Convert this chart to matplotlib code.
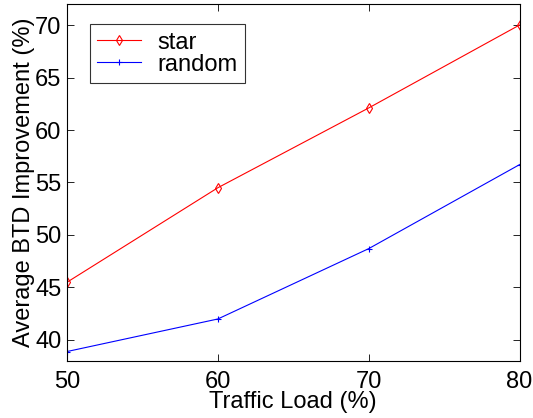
import matplotlib
matplotlib.use("Agg")
import matplotlib.pyplot as plt

plt.rcParams['font.family'] = ['Liberation Sans', 'DejaVu Sans']

load = [50, 60, 70, 80]
star = [45.5, 54.5, 62.1, 70.0]
random_topo = [38.9, 42.0, 48.7, 56.7]
yticks = [40, 45, 50, 55, 60, 65, 70]

fig = plt.figure(figsize=(5.33, 4.18), dpi=100)
ax = fig.add_axes([0.1257, 0.1364, 0.849, 0.854])

ax.plot(load, star, color='red', lw=0.8, marker='d', ms=5, mfc='none', mec='red', mew=0.8, label='star')
ax.plot(load, random_topo, color='blue', lw=0.8, marker='+', ms=5, mew=0.8, label='random')

ax.set_xlim(50, 80)
ax.set_ylim(38, 72)
ax.set_xticks(load)
ax.set_yticks(yticks)
ax.tick_params(direction='in', top=True, right=True, labelsize=17, length=5, width=0.6)
ax.tick_params(axis='x', pad=7)
ax.tick_params(axis='y', pad=4)
for s in ax.spines.values():
    s.set_linewidth(0.8)

ax.set_xlabel('Traffic Load (%)', fontsize=17, labelpad=-1)
ax.set_ylabel('Average BTD Improvement (%)', fontsize=17, labelpad=0)

leg = ax.legend(loc='upper left', bbox_to_anchor=(0.05, 0.944), borderaxespad=0,
                fontsize=17, numpoints=1, fancybox=False, handlelength=1.85,
                labelspacing=0.0, borderpad=0.32, handletextpad=0.7)
leg.get_frame().set_edgecolor('black')
leg.get_frame().set_linewidth(0.8)

fig.savefig('out.png', dpi=100)
